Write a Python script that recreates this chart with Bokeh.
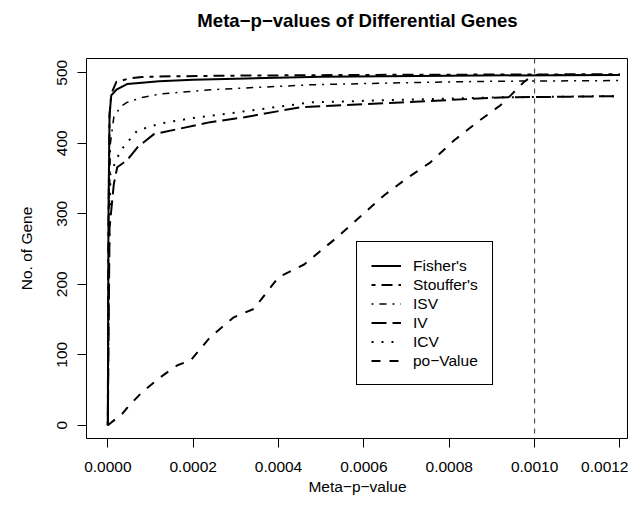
from bokeh.plotting import figure
from bokeh.models import Range1d, FixedTicker, Legend, LegendItem, Span, Title
from bokeh.embed import file_html
from bokeh.resources import INLINE

# ---- data ----
fisher_x = [0, 0.0000015, 0.000004, 0.000008, 0.00002, 0.000045, 0.00008, 0.00012, 0.0002, 0.0003, 0.0005, 0.0008, 0.0012]
fisher_y = [0, 300, 440, 468, 476, 484, 486, 488, 490, 491.5, 494.5, 496, 497]

stouffer_x = [0, 0.000001, 0.000004, 0.000008, 0.00002, 0.00005, 0.00008, 0.00015, 0.0003, 0.0006, 0.0012]
stouffer_y = [0, 250, 440, 470, 487, 492, 494, 495, 496, 497, 498]

isv_x = [0, 0.000002, 0.000006, 0.000014, 0.00003, 0.000045, 0.00008, 0.000123, 0.00024, 0.000475, 0.0007, 0.0009, 0.0012]
isv_y = [0, 250, 400, 437, 452, 458, 465, 470, 476, 483, 486, 488, 489]

iv_x = [0, 0.000004, 0.000014, 0.000022, 0.000045, 0.000069, 0.000108, 0.000163, 0.00024, 0.00032, 0.00045, 0.000686, 0.00092, 0.0012]
iv_y = [0, 280, 342, 366, 376, 394, 413, 420, 430, 437, 451, 458, 465, 467]

icv_x = [0, 0.000002, 0.000006, 0.00003, 0.000069, 0.000123, 0.0002, 0.00028, 0.000475, 0.0007, 0.0009, 0.0012]
icv_y = [0, 200, 357, 390, 418, 428, 436, 442, 458, 462, 465, 467]

po_x = [0, 0.0000337, 0.00005, 0.0000806, 0.000123, 0.000163, 0.000194, 0.00024, 0.000295, 0.000342, 0.0004,
        0.00046, 0.000538, 0.000647, 0.0007, 0.000756, 0.000811, 0.000866, 0.00092, 0.000944, 0.000975, 0.000998, 0.0012]
po_y = [0, 16, 28, 47, 68, 85, 92, 125, 153, 165, 210, 228, 267, 326, 350, 373, 404, 430, 454, 468, 487, 497, 497]

series_names = ["Fisher's", "Stouffer's", "ISV", "IV", "ICV", "po\u2212Value"]
cutoff = 0.001

xticks = [0, 0.0002, 0.0004, 0.0006, 0.0008, 0.0010, 0.0012]
xtick_labels = ["0.0000", "0.0002", "0.0004", "0.0006", "0.0008", "0.0010", "0.0012"]
yticks = [0, 100, 200, 300, 400, 500]
ytick_labels = ["0", "100", "200", "300", "400", "500"]

title_text = "Meta\u2212p\u2212values of Differential Genes"
xlab = "Meta\u2212p\u2212value"
ylab = "No. of Gene"

FONT = "Liberation Sans"
FS = "15.5px"

X0, X1 = -0.00005, 0.00122
Y0, Y1 = -18.9, 520.3

p = figure(width=628, height=499, output_backend="svg", toolbar_location=None, title=None,
           x_range=Range1d(X0, X1), y_range=Range1d(Y0, Y1),
           min_border_left=86, min_border_right=0, min_border_top=58, min_border_bottom=61)

# spacer (closest to the frame) and the real title above it
p.add_layout(Title(text=" ", text_font_size="2px", standoff=22), "above")
p.add_layout(Title(text=title_text, align="center", vertical_align="bottom", standoff=4,
                   text_font=FONT, text_font_size="18.6px", text_font_style="bold",
                   text_color="black"), "above")

p.xgrid.visible = False
p.ygrid.visible = False
p.outline_line_color = "black"
p.outline_line_width = 1
p.background_fill_color = "white"
p.border_fill_color = "white"

p.xaxis.ticker = FixedTicker(ticks=xticks)
p.xaxis.major_label_overrides = {t: l for t, l in zip(xticks, xtick_labels)}
p.yaxis.ticker = FixedTicker(ticks=yticks)
p.yaxis.major_label_overrides = {t: l for t, l in zip(yticks, ytick_labels)}
for ax in (p.xaxis[0], p.yaxis[0]):
    ax.axis_line_color = None
    ax.major_tick_out = 9
    ax.major_tick_in = 0
    ax.major_tick_line_color = "black"
    ax.major_tick_line_width = 1
    ax.minor_tick_line_color = None
    ax.major_label_text_font = FONT
    ax.major_label_text_font_size = FS
    ax.major_label_text_color = "black"
    ax.axis_label_text_font = FONT
    ax.axis_label_text_font_size = FS
    ax.axis_label_text_font_style = "normal"
    ax.axis_label_text_color = "black"
p.yaxis.major_label_orientation = "vertical"
p.xaxis.major_label_standoff = 14
p.yaxis.major_label_standoff = 10
p.xaxis.axis_label = xlab
p.yaxis.axis_label = ylab
p.xaxis.axis_label_standoff = 3
p.yaxis.axis_label_standoff = 20

p.add_layout(Span(location=cutoff, dimension="height", line_color="#333333",
                  line_width=1, line_dash="5 5"))

styles = [
    (fisher_x, fisher_y, "solid", 2),
    (stouffer_x, stouffer_y, "4 6 11 6", 2),
    (isv_x, isv_y, "2 6 7 6", 1.5),
    (iv_x, iv_y, "15 6", 2),
    (icv_x, icv_y, "2 8", 2),
    (po_x, po_y, "9 9", 2),
]
items = []
for (xs, ys, dash, w), name in zip(styles, series_names):
    r = p.line(xs, ys, line_color="black", line_width=w, line_dash=dash, line_join="round")
    items.append(LegendItem(label=name, renderers=[r]))

legend = Legend(items=items, location=(270, 53), padding=14, spacing=0,
                label_height=19, glyph_height=19, glyph_width=30, label_standoff=12,
                label_text_font=FONT, label_text_font_size=FS, label_text_color="black",
                border_line_color="black", border_line_width=1, border_line_alpha=1,
                background_fill_color="white", background_fill_alpha=1, margin=0)
p.add_layout(legend)

open("out.html", "w").write(file_html(p, INLINE))
